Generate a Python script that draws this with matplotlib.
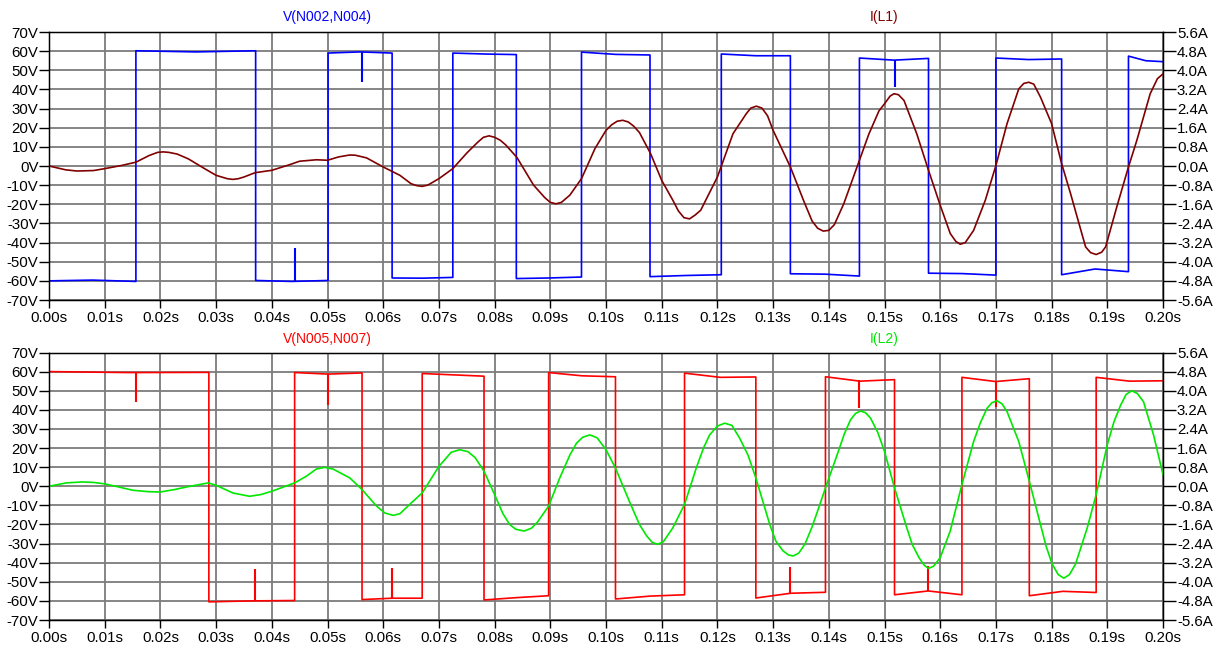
import numpy as np
import matplotlib
matplotlib.use("Agg")
import matplotlib.pyplot as plt

plt.rcParams['font.family'] = ['Liberation Sans', 'DejaVu Sans']
plt.rcParams['axes.unicode_minus'] = False

# ---- top pane: V(N002,N004) square wave
# edge times, and level at start / middle / end of each plateau
v1_edges = [0.0, 0.0156, 0.0371, 0.0501, 0.0616, 0.0725, 0.0839, 0.0956, 0.1079,
            0.1207, 0.1331, 0.1455, 0.1579, 0.1700, 0.1818, 0.1938, 0.2000]
v1_start = [-60.0, 60.2, -59.8, 59.0, -58.5, 59.0, -58.8, 59.5, -57.8, 58.5, -56.3,
            56.4, -56.0, 56.4, -56.8, 57.4]
v1_mid = [-59.6, 59.6, -60.3, 59.6, -58.6, 58.5, -58.5, 58.3, -57.2, 57.6, -56.5,
          55.3, -56.2, 55.6, -53.8, 55.0]
v1_end = [-60.3, 60.2, -59.8, 59.0, -58.2, 58.2, -58.0, 58.0, -56.8, 57.6, -57.5,
          56.2, -57.0, 55.9, -55.2, 54.5]
v1_init = 2.5
v1_spike_t = [0.0441, 0.0562, 0.1518]
v1_spike_from = [-60.2, 59.6, 55.3]
v1_spike_to = [-43.0, 44.0, 41.5]

# I(L1) in amps
i1_t = [0.000, 0.003, 0.005, 0.008, 0.010, 0.013, 0.0156, 0.018, 0.0195, 0.0205,
        0.0215, 0.023, 0.025, 0.028, 0.030, 0.032, 0.033, 0.034, 0.035, 0.037,
        0.040, 0.043, 0.045, 0.048, 0.050, 0.052, 0.054, 0.055, 0.057, 0.060,
        0.063, 0.065, 0.066, 0.067, 0.068, 0.070, 0.0725, 0.075, 0.077, 0.078,
        0.079, 0.080, 0.081, 0.082, 0.084, 0.087, 0.089, 0.090, 0.091, 0.092,
        0.0935, 0.0956, 0.098, 0.100, 0.101, 0.102, 0.103, 0.104, 0.105, 0.106,
        0.108, 0.110, 0.112, 0.113, 0.114, 0.115, 0.116, 0.117, 0.120, 0.1228,
        0.1252, 0.126, 0.127, 0.128, 0.129, 0.130, 0.1331, 0.1355, 0.137, 0.138,
        0.139, 0.140, 0.141, 0.1427, 0.1455, 0.1472, 0.149, 0.150, 0.151, 0.1517,
        0.1525, 0.1535, 0.1558, 0.1579, 0.160, 0.1618, 0.1628, 0.1636, 0.1645, 0.166,
        0.1681, 0.170, 0.172, 0.1741, 0.175, 0.1759, 0.1768, 0.178, 0.180, 0.1818,
        0.1834, 0.1861, 0.187, 0.188, 0.189, 0.1897, 0.1917, 0.1938, 0.1953, 0.1977,
        0.199, 0.200]
i1_a = [0.00, -0.16, -0.21, -0.19, -0.11, 0.02, 0.16, 0.44, 0.57, 0.59,
        0.57, 0.50, 0.30, -0.12, -0.39, -0.53, -0.56, -0.53, -0.46, -0.28,
        -0.18, 0.04, 0.20, 0.26, 0.24, 0.38, 0.46, 0.45, 0.34, -0.04,
        -0.39, -0.74, -0.82, -0.85, -0.80, -0.53, -0.11, 0.54, 1.00, 1.20,
        1.26, 1.20, 1.08, 0.88, 0.36, -0.80, -1.32, -1.52, -1.58, -1.52,
        -1.22, -0.53, 0.72, 1.49, 1.72, 1.87, 1.91, 1.84, 1.66, 1.40,
        0.52, -0.60, -1.43, -1.88, -2.16, -2.21, -2.05, -1.85, -0.46, 1.35,
        2.19, 2.42, 2.50, 2.42, 2.10, 1.49, -0.04, -1.46, -2.30, -2.60,
        -2.72, -2.69, -2.45, -1.57, 0.24, 1.34, 2.30, 2.60, 2.92, 3.02,
        2.98, 2.74, 1.34, -0.18, -1.64, -2.82, -3.15, -3.27, -3.20, -2.69,
        -1.43, 0.02, 1.77, 3.22, 3.45, 3.50, 3.42, 2.88, 1.77, 0.10,
        -1.15, -3.38, -3.62, -3.70, -3.60, -3.38, -1.71, -0.04, 1.07, 3.02,
        3.65, 3.85]

# ---- bottom pane: V(N005,N007)
v2_edges = [0.0, 0.0287, 0.0441, 0.0562, 0.0670, 0.0781, 0.0897, 0.1017, 0.1141,
            0.1269, 0.1394, 0.1518, 0.1639, 0.1760, 0.1880, 0.2000]
v2_start = [60.0, -60.5, 59.5, -59.3, 59.0, -59.5, 59.5, -59.0, 59.2, -58.5,
            57.3, -56.8, 57.0, -57.3, 57.0]
v2_mid = [59.5, -60.0, 58.7, -58.6, 58.3, -58.3, 57.8, -57.5, 57.0, -56.0,
          55.0, -54.8, 54.8, -55.0, 55.0]
v2_end = [59.6, -59.8, 59.3, -58.6, 57.6, -57.3, 57.3, -56.8, 57.2, -55.5,
          55.8, -56.8, 56.3, -55.6, 55.2]
v2_init = -1.0
v2_spike_t = [0.0156, 0.0370, 0.0501, 0.0616, 0.1331, 0.1455, 0.1578, 0.1700]
v2_spike_from = [59.6, -60.0, 58.8, -58.6, -56.0, 55.5, -55.0, 55.0]
v2_spike_to = [44.0, -43.5, 42.6, -43.0, -42.0, 41.2, -41.7, 41.7]

# I(L2) in amps
i2_t = [0.000, 0.0031, 0.006, 0.008, 0.010, 0.0125, 0.0151, 0.018, 0.020, 0.0225,
        0.0247, 0.0286, 0.030, 0.033, 0.036, 0.038, 0.040, 0.0441, 0.0462, 0.048,
        0.0495, 0.051, 0.054, 0.0562, 0.0588, 0.0603, 0.0618, 0.063, 0.0648, 0.067,
        0.070, 0.0722, 0.0737, 0.0752, 0.0765, 0.0781, 0.080, 0.0815, 0.0827, 0.0838,
        0.0853, 0.0866, 0.0877, 0.0897, 0.0917, 0.0935, 0.0947, 0.0958, 0.0971, 0.0984,
        0.100, 0.1017, 0.1043, 0.106, 0.1073, 0.1083, 0.1093, 0.1103, 0.112, 0.1141,
        0.1162, 0.1175, 0.1186, 0.120, 0.1213, 0.1226, 0.124, 0.1255, 0.1269, 0.1294,
        0.1305, 0.1318, 0.1328, 0.1336, 0.1346, 0.1357, 0.137, 0.1384, 0.1394, 0.1415,
        0.1428, 0.1439, 0.1448, 0.1457, 0.1466, 0.1475, 0.1488, 0.150, 0.1518, 0.154,
        0.155, 0.1562, 0.1571, 0.1579, 0.1588, 0.160, 0.1618, 0.1639, 0.166, 0.1672,
        0.1684, 0.1693, 0.1702, 0.1711, 0.172, 0.1741, 0.176, 0.178, 0.179, 0.1801,
        0.1812, 0.1822, 0.1832, 0.1843, 0.1864, 0.188, 0.190, 0.1912, 0.1924, 0.1934,
        0.1944, 0.1954, 0.1965, 0.1983, 0.2000]
i2_a = [0.00, 0.14, 0.18, 0.16, 0.10, -0.03, -0.17, -0.23, -0.24, -0.14,
        -0.03, 0.14, 0.04, -0.28, -0.42, -0.35, -0.21, 0.14, 0.42, 0.72,
        0.79, 0.72, 0.35, -0.14, -0.83, -1.12, -1.22, -1.15, -0.75, -0.28,
        0.83, 1.42, 1.53, 1.45, 1.20, 0.63, -0.35, -1.15, -1.60, -1.80,
        -1.875, -1.76, -1.50, -0.83, 0.35, 1.30, 1.80, 2.05, 2.15, 2.03,
        1.53, 0.76, -0.69, -1.60, -2.08, -2.35, -2.43, -2.32, -1.74, -0.76,
        0.76, 1.60, 2.15, 2.52, 2.64, 2.55, 2.01, 1.30, 0.35, -1.60,
        -2.30, -2.71, -2.88, -2.92, -2.80, -2.43, -1.70, -0.76, -0.07, 1.32,
        2.20, 2.78, 3.05, 3.15, 3.08, 2.85, 2.25, 1.46, -0.07, -1.74,
        -2.45, -2.99, -3.30, -3.44, -3.35, -2.99, -1.875, 0.07, 1.875, 2.65,
        3.26, 3.50, 3.58, 3.45, 3.125, 1.875, 0.21, -1.60, -2.50, -3.26,
        -3.70, -3.85, -3.70, -3.26, -1.74, -0.35, 1.74, 2.70, 3.40, 3.85,
        4.00, 3.88, 3.54, 2.15, 0.49]

x_ticks = [0.00, 0.01, 0.02, 0.03, 0.04, 0.05, 0.06, 0.07, 0.08, 0.09, 0.10,
           0.11, 0.12, 0.13, 0.14, 0.15, 0.16, 0.17, 0.18, 0.19, 0.20]
v_ticks = [70, 60, 50, 40, 30, 20, 10, 0, -10, -20, -30, -40, -50, -60, -70]
a_ticks = [5.6, 4.8, 4.0, 3.2, 2.4, 1.6, 0.8, 0.0, -0.8, -1.6, -2.4, -3.2, -4.0, -4.8, -5.6]


def square_path(edges, v_start, v_mid, v_end, v_init):
    # vertical edges come from joining consecutive plateaus
    xs, ys = [edges[0]], [v_init]
    for k in range(len(v_start)):
        xs += [edges[k], (edges[k] + edges[k + 1]) / 2, edges[k + 1]]
        ys += [v_start[k], v_mid[k], v_end[k]]
    return xs, ys


def setup_pane(ax):
    ax.set_xlim(0, 0.2)
    ax.set_ylim(-70, 70)
    ax.set_xticks(x_ticks)
    ax.set_xticklabels([f"{t:.2f}s" for t in x_ticks])
    ax.set_yticks(v_ticks)
    ax.set_yticklabels([f"{v}V" for v in v_ticks])
    ax.grid(True, color='#7c7c7c', lw=1.3)
    ax.set_axisbelow(True)
    ax.tick_params(axis='y', direction='out', length=7, width=1, pad=0.5, labelsize=10.8)
    ax.tick_params(axis='x', direction='out', length=6, width=1, pad=2, labelsize=10.8)
    for s in ax.spines.values():
        s.set_color('black')
        s.set_linewidth(1)
    axr = ax.twinx()
    axr.set_ylim(-5.6, 5.6)
    axr.set_yticks(a_ticks)
    axr.set_yticklabels([f"{a:.1f}A" for a in a_ticks])
    axr.tick_params(axis='y', direction='out', length=9, width=1, pad=1, labelsize=10.8)
    return axr


fig = plt.figure(figsize=(12.24, 6.5), dpi=100)
ax1 = fig.add_axes([49 / 1224, 1 - 300 / 650, 1114 / 1224, 268 / 650])
ax2 = fig.add_axes([49 / 1224, 1 - 620 / 650, 1114 / 1224, 267.5 / 650])

# top pane
ax1r = setup_pane(ax1)
xs, ys = square_path(v1_edges, v1_start, v1_mid, v1_end, v1_init)
ax1.plot(xs, ys, color='#0000ff', lw=1.2)
ax1.vlines(v1_spike_t, v1_spike_from, v1_spike_to, color='#0000ff', lw=1.5)
ax1r.plot(i1_t, i1_a, color='#800000', lw=1.2)

# bottom pane
ax2r = setup_pane(ax2)
xs, ys = square_path(v2_edges, v2_start, v2_mid, v2_end, v2_init)
ax2.plot(xs, ys, color='#ff0000', lw=1.2)
ax2.vlines(v2_spike_t, v2_spike_from, v2_spike_to, color='#ff0000', lw=1.5)
ax2r.plot(i2_t, i2_a, color='#00e800', lw=1.2)

# trace names
fig.text(327 / 1224, 1 - 17 / 650, "V(N002,N004)", color='#0000ff', fontsize=10,
         ha='center', va='center')
fig.text(884 / 1224, 1 - 17 / 650, "I(L1)", color='#800000', fontsize=10,
         ha='center', va='center')
fig.text(327 / 1224, 1 - 339 / 650, "V(N005,N007)", color='#ff0000', fontsize=10,
         ha='center', va='center')
fig.text(884 / 1224, 1 - 339 / 650, "I(L2)", color='#00e800', fontsize=10,
         ha='center', va='center')

fig.savefig("out.png", dpi=100)
